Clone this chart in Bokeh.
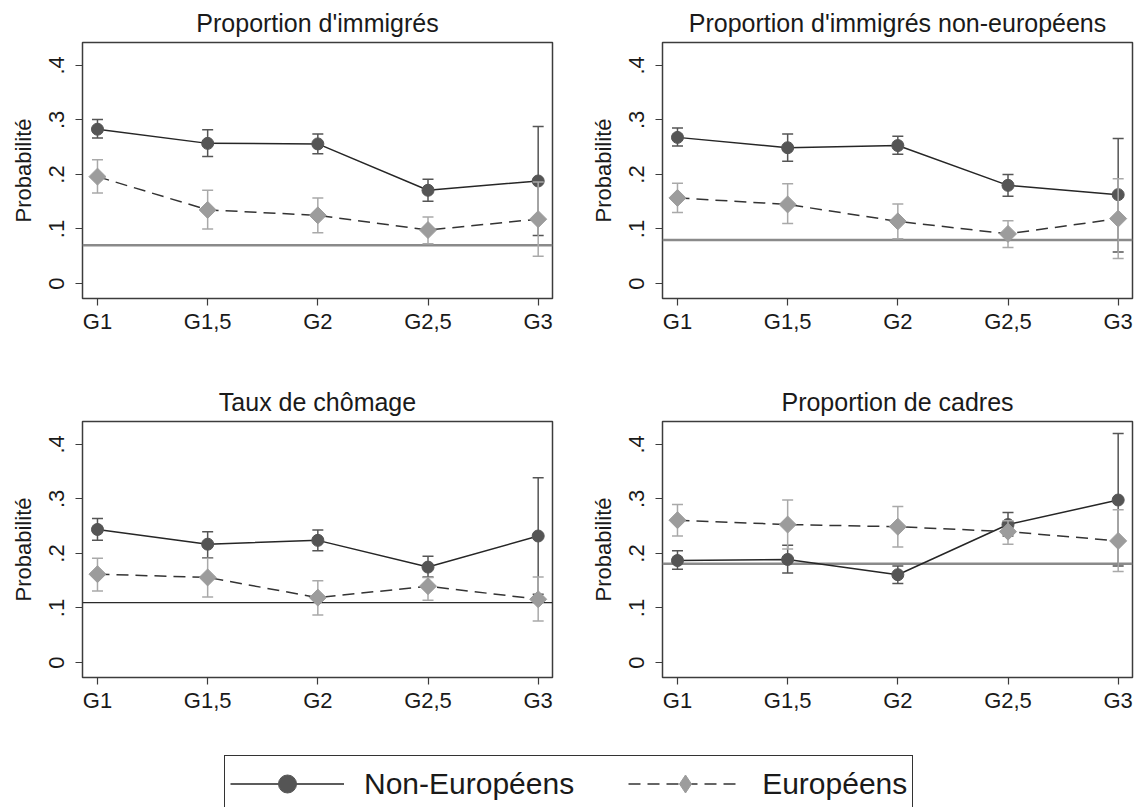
import math
from bokeh.plotting import figure
from bokeh.models import (FixedTicker, CustomJSTickFormatter, Span, Legend,
                          LegendItem, Range1d, ColumnDataSource)
from bokeh.layouts import row, column
from bokeh.embed import file_html
from bokeh.resources import INLINE

FONT = "Liberation Sans"

categories = ["G1", "G1,5", "G2", "G2,5", "G3"]
series_names = ["Non-Européens", "Européens"]
y_ticks = [0, 0.1, 0.2, 0.3, 0.4]

# Panel 1: Proportion d'immigrés
t1 = "Proportion d'immigrés"
ne1_mean = [0.283, 0.257, 0.256, 0.171, 0.188]
ne1_lo = [0.267, 0.233, 0.238, 0.151, 0.088]
ne1_hi = [0.301, 0.282, 0.274, 0.191, 0.288]
eu1_mean = [0.196, 0.135, 0.125, 0.098, 0.118]
eu1_lo = [0.166, 0.100, 0.093, 0.073, 0.050]
eu1_hi = [0.227, 0.171, 0.157, 0.122, 0.186]
ref1 = 0.070

# Panel 2: Proportion d'immigrés non-européens
t2 = "Proportion d'immigrés non-européens"
ne2_mean = [0.268, 0.249, 0.253, 0.180, 0.163]
ne2_lo = [0.252, 0.224, 0.237, 0.160, 0.058]
ne2_hi = [0.285, 0.274, 0.270, 0.200, 0.266]
eu2_mean = [0.157, 0.145, 0.114, 0.091, 0.119]
eu2_lo = [0.130, 0.110, 0.082, 0.066, 0.046]
eu2_hi = [0.184, 0.183, 0.146, 0.115, 0.192]
ref2 = 0.080

# Panel 3: Taux de chômage
t3 = "Taux de chômage"
ne3_mean = [0.244, 0.217, 0.224, 0.175, 0.232]
ne3_lo = [0.224, 0.192, 0.205, 0.157, 0.125]
ne3_hi = [0.264, 0.240, 0.243, 0.195, 0.339]
eu3_mean = [0.162, 0.156, 0.119, 0.140, 0.116]
eu3_lo = [0.131, 0.120, 0.087, 0.114, 0.076]
eu3_hi = [0.191, 0.191, 0.150, 0.156, 0.157]
ref3 = 0.110

# Panel 4: Proportion de cadres
t4 = "Proportion de cadres"
ne4_mean = [0.187, 0.189, 0.161, 0.253, 0.298]
ne4_lo = [0.171, 0.164, 0.145, 0.232, 0.177]
ne4_hi = [0.205, 0.215, 0.177, 0.275, 0.420]
eu4_mean = [0.261, 0.253, 0.249, 0.240, 0.223]
eu4_lo = [0.232, 0.208, 0.212, 0.217, 0.167]
eu4_hi = [0.290, 0.298, 0.286, 0.260, 0.280]
ref4 = 0.181

NE_MARK = "#555555"
NE_LINE = "#262626"
NE_ERR = "#555555"
EU_MARK = "#9c9c9c"
EU_LINE = "#333333"
EU_ERR = "#a9a9a9"
DASH = "12 7"
DIAMOND_ANGLE = math.pi / 4

xpos = list(range(1, len(categories) + 1))


def draw_series(p, mean, lo, hi, mark_color, line_color, err_color, marker, size, angle, dash):
    src = ColumnDataSource(dict(x=xpos, m=mean, lo=lo, hi=hi))
    p.segment(x0="x", y0="lo", x1="x", y1="hi", source=src, line_color=err_color, line_width=1.5)
    p.scatter(x="x", y="lo", source=src, marker="dash", size=11, line_color=err_color, line_width=1.5)
    p.scatter(x="x", y="hi", source=src, marker="dash", size=11, line_color=err_color, line_width=1.5)
    p.line(x="x", y="m", source=src, line_color=line_color, line_width=1.5, line_dash=dash)
    p.scatter(x="x", y="m", source=src, marker=marker, size=size, angle=angle,
              fill_color=mark_color, line_color=mark_color)


def make_panel(title, ne, eu, ref, ref_color, ref_width, width, height, bl, br, bt, bb):
    p = figure(width=width, height=height, output_backend="svg", toolbar_location=None,
               x_range=Range1d(0.864, 5.13), y_range=Range1d(-0.0275, 0.442),
               min_border_left=bl, min_border_right=br, min_border_top=bt, min_border_bottom=bb,
               background_fill_color="white", border_fill_color="white")
    p.title.text = title
    p.title.align = "center"
    p.title.text_font = FONT
    p.title.text_font_size = "25px"
    p.title.text_font_style = "normal"
    p.title.text_color = "#1a1a1a"
    p.title.standoff = 11
    p.grid.visible = False
    p.outline_line_color = "#3c3c3c"
    p.outline_line_width = 1.5

    p.xaxis.ticker = FixedTicker(ticks=xpos)
    p.xaxis.major_label_overrides = {i + 1: c for i, c in enumerate(categories)}
    p.yaxis.ticker = FixedTicker(ticks=y_ticks)
    p.yaxis.formatter = CustomJSTickFormatter(
        code="return tick == 0 ? '0' : tick.toFixed(1).replace(/^0/, '');")
    p.yaxis.major_label_orientation = "vertical"
    p.yaxis.axis_label = "Probabilité"
    for ax in (p.xaxis, p.yaxis):
        ax.axis_line_color = None
        ax.minor_tick_line_color = None
        ax.major_tick_in = 0
        ax.major_tick_out = 7
        ax.major_tick_line_color = "#3c3c3c"
        ax.major_tick_line_width = 1.2
        ax.major_label_text_font = FONT
        ax.major_label_text_font_size = "22px"
        ax.major_label_text_color = "#1a1a1a"
        ax.axis_label_text_font = FONT
        ax.axis_label_text_font_size = "22px"
        ax.axis_label_text_font_style = "normal"
        ax.axis_label_text_color = "#1a1a1a"
    p.xaxis.major_label_standoff = 3
    p.yaxis.major_label_standoff = 11
    p.yaxis.axis_label_standoff = 11

    p.add_layout(Span(location=ref, dimension="width", line_color=ref_color,
                      line_width=ref_width, level="underlay"))
    draw_series(p, *ne, NE_MARK, NE_LINE, NE_ERR, "circle", 12, 0, "solid")
    draw_series(p, *eu, EU_MARK, EU_LINE, EU_ERR, "square", 12, DIAMOND_ANGLE, DASH)
    return p


p1 = make_panel(t1, (ne1_mean, ne1_lo, ne1_hi), (eu1_mean, eu1_lo, eu1_hi), ref1, "#8a8a8a", 2.5,
                586, 368, 82, 34, 42, 70)
p2 = make_panel(t2, (ne2_mean, ne2_lo, ne2_hi), (eu2_mean, eu2_lo, eu2_hi), ref2, "#8a8a8a", 2.5,
                549, 368, 76, 3, 42, 70)
p3 = make_panel(t3, (ne3_mean, ne3_lo, ne3_hi), (eu3_mean, eu3_lo, eu3_hi), ref3, "#2a2a2a", 1.3,
                586, 352, 82, 34, 53, 43)
p4 = make_panel(t4, (ne4_mean, ne4_lo, ne4_hi), (eu4_mean, eu4_lo, eu4_hi), ref4, "#8a8a8a", 2.5,
                549, 352, 76, 3, 53, 43)

# Legend strip (legend renderers hold no visible points)
nan = float("nan")
pl = figure(width=1135, height=87, output_backend="svg", toolbar_location=None,
            x_range=Range1d(0, 1), y_range=Range1d(0, 1),
            x_axis_location=None, y_axis_location=None,
            min_border=0, min_border_left=0, min_border_right=0, min_border_top=0, min_border_bottom=0)
pl.grid.visible = False
pl.outline_line_color = None
l1 = pl.line(x=[nan], y=[nan], line_color=NE_LINE, line_width=1.5)
s1 = pl.scatter(x=[nan], y=[nan], marker="circle", fill_color=NE_MARK, line_color=NE_MARK)
l2 = pl.line(x=[nan], y=[nan], line_color=EU_LINE, line_width=1.5, line_dash=DASH)
s2 = pl.scatter(x=[nan], y=[nan], marker="diamond", fill_color=EU_MARK, line_color=EU_MARK)
legend = Legend(items=[LegendItem(label=series_names[0], renderers=[l1, s1]),
                       LegendItem(label=series_names[1], renderers=[l2, s2])],
                orientation="horizontal", location=(224, -5),
                glyph_width=114, glyph_height=45, label_standoff=20, spacing=54,
                padding=5, margin=0,
                label_text_font=FONT, label_text_font_size="30px", label_text_color="#1a1a1a",
                border_line_color="#333333", border_line_width=1.5, border_line_alpha=1.0,
                background_fill_color="white", background_fill_alpha=1.0)
pl.add_layout(legend, "center")

layout = column(row(p1, p2), row(p3, p4), pl, spacing=0)
open("out.html", "w").write(file_html(layout, INLINE))
